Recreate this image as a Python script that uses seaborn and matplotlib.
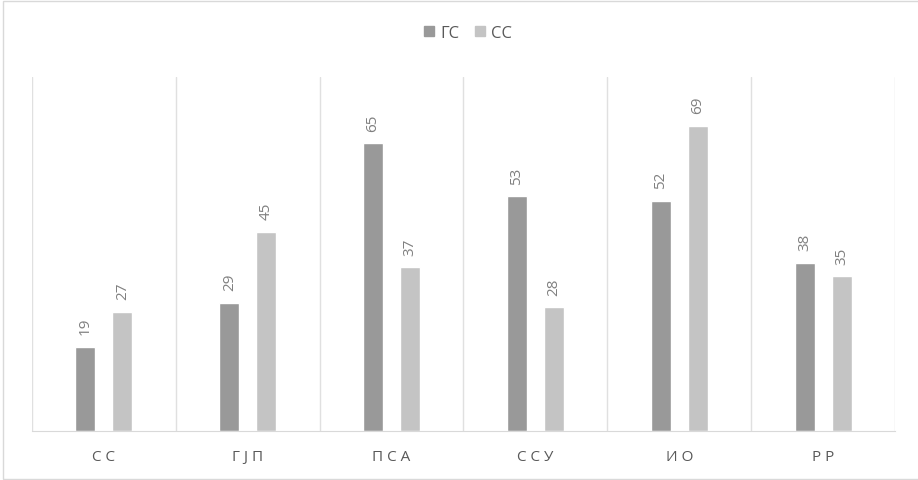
import matplotlib
matplotlib.use("Agg")
import matplotlib.pyplot as plt
import seaborn as sns
import pandas as pd

categories = ["С С", "Г Ј П", "П С А", "С С У", "И О", "Р Р"]
series_names = ["ГС", "СС"]
gs_values = [19, 29, 65, 53, 52, 38]
ss_values = [27, 45, 37, 28, 69, 35]

df = pd.DataFrame({
    "cat": categories * 2,
    "series": [series_names[0]] * len(categories) + [series_names[1]] * len(categories),
    "value": gs_values + ss_values,
})

sns.set_style("white")
plt.rcParams['font.family'] = ['Open Sans', 'DejaVu Sans']

fig = plt.figure(figsize=(9.18, 4.81), dpi=100)
ax = fig.add_axes([32 / 918, 49 / 481, 863 / 918, 354 / 481])

palette = {"ГС": "#999999", "СС": "#c4c4c4"}
sns.barplot(data=df, x="cat", y="value", hue="series", order=categories,
            hue_order=series_names, palette=palette, width=0.514, gap=0.46,
            saturation=1, errorbar=None, ax=ax, legend=False)

for cont in ax.containers:
    ax.bar_label(cont, rotation=90, padding=9, color="#808080", fontsize=11)

ax.set_ylim(0, 80)
ax.set_xlim(-0.5, len(categories) - 0.5)
ax.set_yticks([])
ax.set_xlabel("")
ax.set_ylabel("")
for x in range(len(categories) + 1):
    ax.axvline(x - 0.5, color="#e0e0e0", lw=1, zorder=0)
for s in ["top", "left", "right"]:
    ax.spines[s].set_visible(False)
ax.spines["bottom"].set_color("#d9d9d9")
ax.tick_params(axis="x", length=0, pad=13, labelcolor="#595959", labelsize=11)

# legend
from matplotlib.patches import Patch, Rectangle
handles = [Patch(color=palette[n], label=n) for n in series_names]
fig.legend(handles=handles, loc="center", bbox_to_anchor=(468 / 918, 1 - 34 / 481), ncol=2,
           frameon=False, handlelength=0.6, handleheight=0.6, handletextpad=0.4,
           columnspacing=0.9, prop={"size": 12}, labelcolor="#595959")

# chart frame
fig.patches.append(Rectangle((3 / 918, 1 / 481), 1.0, 1 - 3 / 481, transform=fig.transFigure,
                             fill=False, edgecolor="#d9d9d9", lw=1))

fig.savefig("out.png", dpi=100)
